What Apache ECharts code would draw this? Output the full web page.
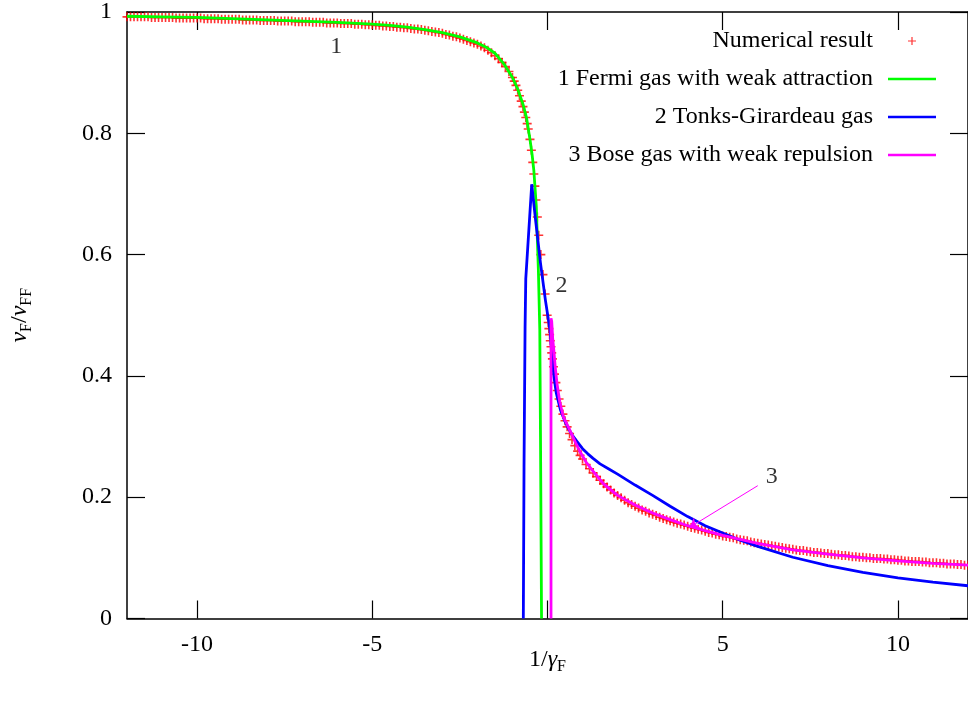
<!DOCTYPE html>
<html><head><meta charset="utf-8">
<script src="https://cdn.jsdelivr.net/npm/echarts@6/dist/echarts.min.js"></script>
<style>html,body{margin:0;padding:0;background:#fff}#c{width:968px;height:706px}</style>
</head><body><div id="c"></div><script>
// ---- data ----
const redX = [
-12,-11.9,-11.8,-11.7,-11.6,-11.5,-11.4,-11.3,-11.2,-11.1,-11,-10.9,-10.8,-10.7,-10.6,-10.5,-10.4,-10.3,-10.2,-10.1,-10,
-9.9,-9.8,-9.7,-9.6,-9.5,-9.4,-9.3,-9.2,-9.1,-9,
-8.9,-8.8,-8.7,-8.6,-8.5,-8.4,-8.3,-8.2,-8.1,-8,
-7.9,-7.8,-7.7,-7.6,-7.5,-7.4,-7.3,-7.2,-7.1,-7,
-6.9,-6.8,-6.7,-6.6,-6.5,-6.4,-6.3,-6.2,-6.1,-6,
-5.9,-5.8,-5.7,-5.6,-5.5,-5.4,-5.3,-5.2,-5.1,-5,
-4.9,-4.8,-4.7,-4.6,-4.5,-4.4,-4.3,-4.2,-4.1,-4,
-3.9,-3.8,-3.7,-3.6,-3.5,-3.4,-3.3,-3.2,-3.1,-3,
-2.9,-2.8,-2.7,-2.6,-2.5,-2.4,-2.3,-2.2,-2.1,-2,
-1.9,-1.8,-1.7,-1.6,-1.5,-1.4,-1.3,-1.2,-1.1,-1,-0.95,-0.9,-0.85,-0.8,-0.75,-0.7,-0.66,-0.62,-0.58,-0.55,
-0.5,-0.46,-0.42,-0.39,-0.36,-0.33,-0.29,-0.25,-0.19,-0.13,-0.07,-0.01,
0.02,0.04,0.06,0.08,0.1,0.12,0.14,0.17,0.2,0.24,0.28,0.33,0.38,0.44,0.5,0.56,0.63,0.7,0.78,0.86,0.93,
1,1.1,1.2,1.3,1.4,1.5,1.6,1.7,1.8,1.9,2,2.1,2.2,2.3,2.4,2.5,2.6,2.7,2.8,2.9,
3,3.1,3.2,3.3,3.4,3.5,3.6,3.7,3.8,3.9,4,4.1,4.2,4.3,4.4,4.5,4.6,4.7,4.8,4.9,
5,5.1,5.2,5.3,5.4,5.5,5.6,5.7,5.8,5.9,6,6.1,6.2,6.3,6.4,6.5,6.6,6.7,6.8,6.9,
7,7.1,7.2,7.3,7.4,7.5,7.6,7.7,7.8,7.9,8,8.1,8.2,8.3,8.4,8.5,8.6,8.7,8.8,8.9,
9,9.1,9.2,9.3,9.4,9.5,9.6,9.7,9.8,9.9,10,10.1,10.2,10.3,10.4,10.5,10.6,10.7,10.8,10.9,
11,11.1,11.2,11.3,11.4,11.5,11.6,11.7,11.8,11.9,12];
const redY = [
0.992,0.992,0.992,0.992,0.992,0.992,0.992,0.991,0.991,0.991,0.991,0.991,0.991,0.991,0.990,0.990,0.990,0.990,0.990,0.990,0.990,
0.990,0.989,0.989,0.989,0.989,0.989,0.988,0.988,0.988,0.988,
0.988,0.988,0.987,0.987,0.987,0.987,0.987,0.986,0.986,0.986,
0.986,0.986,0.985,0.985,0.985,0.985,0.985,0.984,0.984,0.984,
0.984,0.984,0.983,0.983,0.983,0.983,0.982,0.982,0.982,0.982,
0.981,0.981,0.981,0.981,0.980,0.980,0.980,0.979,0.979,0.979,
0.978,0.978,0.977,0.977,0.976,0.976,0.975,0.975,0.974,0.974,
0.973,0.972,0.972,0.971,0.970,0.969,0.968,0.967,0.966,0.965,
0.963,0.962,0.960,0.959,0.957,0.955,0.953,0.951,0.949,0.947,
0.944,0.941,0.937,0.933,0.928,0.923,0.917,0.910,0.902,0.892,0.886,0.879,0.871,0.862,0.853,0.844,0.835,0.826,0.816,0.807,
0.790,0.772,0.752,0.733,0.713,0.690,0.662,0.632,0.600,0.567,0.535,0.500,
0.488,0.478,0.468,0.458,0.448,0.438,0.428,0.415,0.403,0.389,0.376,0.362,0.350,0.337,0.326,0.316,0.305,0.295,0.285,0.276,0.269,
0.263,0.254,0.247,0.240,0.234,0.228,0.222,0.217,0.212,0.207,0.203,0.199,0.195,0.191,0.188,0.185,0.182,0.179,0.177,0.174,
0.172,0.170,0.167,0.165,0.163,0.161,0.159,0.157,0.156,0.154,0.152,0.150,0.149,0.147,0.146,0.144,0.142,0.141,0.139,0.138,
0.136,0.135,0.134,0.133,0.131,0.130,0.129,0.128,0.126,0.125,0.124,0.123,0.122,0.121,0.120,0.119,0.118,0.117,0.116,0.115,
0.114,0.113,0.112,0.112,0.111,0.110,0.109,0.109,0.108,0.107,0.107,0.106,0.105,0.105,0.104,0.104,0.103,0.102,0.102,0.101,
0.101,0.100,0.100,0.099,0.099,0.099,0.098,0.098,0.097,0.097,0.096,0.096,0.095,0.095,0.094,0.094,0.094,0.093,0.093,0.092,
0.092,0.092,0.091,0.091,0.090,0.090,0.090,0.089,0.089,0.088,0.088];

const greenX = [-12,-11,-10,-9,-8,-7,-6,-5,-4.5,-4,-3.5,-3,-2.5,-2,-1.75,-1.5,-1.25,-1,-0.85,-0.7,-0.6,-0.5,-0.44,-0.39,-0.32,-0.26,-0.22,-0.2,-0.17];
const greenY = [0.993,0.992,0.991,0.989,0.987,0.985,0.983,0.980,0.978,0.975,0.971,0.966,0.959,0.949,0.942,0.932,0.915,0.892,0.873,0.848,0.826,0.790,0.765,0.739,0.680,0.574,0.476,0.300,0];

const blueX = [-0.69,-0.67,-0.64,-0.62,-0.45,-0.34,-0.2,-0.06,0.07,0.12,0.18,0.25,0.37,0.5,0.6,0.7,0.84,1.0,1.15,1.3,1.5,1.75,2.0,2.5,3.0,3.5,4.0,4.5,5.0,5.5,6.0,7.0,8.0,9.0,10.0,11.0,12.0];
const blueY = [0,0.25,0.48,0.56,0.716,0.657,0.586,0.525,0.476,0.44,0.40,0.372,0.344,0.325,0.313,0.303,0.292,0.280,0.2715,0.264,0.255,0.2465,0.238,0.220,0.203,0.185,0.168,0.153,0.141,0.129,0.119,0.101,0.087,0.076,0.067,0.060,0.054];

const magX = [0.10,0.10,0.12,0.15,0.18,0.22,0.27,0.35,0.45,0.6,0.8,0.93,1.1,1.3,1.6,2.0,2.5,3.0,3.5,4.0,4.5,5.0,6.0,7.0,8.0,9.0,10.0,11.0,12.0];
const magY = [0,0.495,0.49,0.46,0.443,0.415,0.388,0.357,0.333,0.315,0.29,0.275,0.258,0.243,0.222,0.203,0.187,0.174,0.163,0.153,0.145,0.137,0.124,0.113,0.106,0.100,0.095,0.091,0.088];

const seriesNames = ['Numerical result','1 Fermi gas with weak attraction','2 Tonks-Girardeau gas','3 Bose gas with weak repulsion'];
const noteText = ['1','2','3'];
const noteX = [-6.03,0.40,6.4];
const noteY = [0.943,0.548,0.234];
const arrowFrom = [6.0,0.219];
const arrowTo = [4.05,0.150];

const xTickValues = [-10,-5,0,5,10];
const xLabelValues = [-10,-5,5,10];

// ---- chart ----
const FONT = '"Liberation Serif","DejaVu Serif",serif';
const pair = (xs, ys) => xs.map((x, i) => [x, ys[i]]);
const plus = 'path://M0,4.1H10V5.9H0Z M4.1,0H5.9V10H4.1Z';
const plusIcon = 'path://M0,3.4H8V4.6H0Z M3.4,0H4.6V8H3.4Z';
const lineIcon = 'path://M0,0H48V2.6H0Z';
const axLine = {show:true, onZero:false, lineStyle:{color:'#000', width:1.5}};
const tick = (extra) => Object.assign({show:true, inside:true, length:18, lineStyle:{color:'#000', width:1.2}}, extra||{});
const rich = {
  i:{fontFamily:FONT, fontSize:24, fontStyle:'italic', color:'#000'},
  s:{fontFamily:FONT, fontSize:16, color:'#000', padding:[14,0,0,0]}
};
const colors = ['#ff0000','#00ff00','#0000ff','#ff00ff'];

const chart = echarts.init(document.getElementById('c'));
chart.setOption({
  animation:false,
  backgroundColor:'#fff',
  textStyle:{fontFamily:FONT},
  grid:{left:122.6, top:10, width:848, height:608.5},
  legend:{
    data:[{name:seriesNames[0], icon:plusIcon},
          {name:seriesNames[1], icon:lineIcon},
          {name:seriesNames[2], icon:lineIcon},
          {name:seriesNames[3], icon:lineIcon}],
    orient:'vertical', align:'right', right:32, top:29, padding:0, itemGap:14,
    itemWidth:48, itemHeight:8, symbolKeepAspect:true, selectedMode:false,
    textStyle:{fontFamily:FONT, fontSize:24, color:'#000', padding:[0,10,0,0]}
  },
  xAxis:[
    {type:'value', min:-12, max:12, position:'bottom', axisLine:axLine,
     axisTick:tick({customValues:xTickValues}),
     axisLabel:{customValues:xLabelValues, fontFamily:FONT, fontSize:24, color:'#000', margin:14},
     splitLine:{show:false},
     name:'1/{i|γ}{s|F}', nameLocation:'middle', nameGap:26, nameMoveOverlap:false,
     nameTextStyle:{fontFamily:FONT, fontSize:24, color:'#000', rich:rich}},
    {type:'value', min:-12, max:12, position:'top', axisLine:axLine,
     axisTick:tick({customValues:xTickValues}), axisLabel:{show:false}, splitLine:{show:false}}
  ],
  yAxis:[
    {type:'value', min:0, max:1, interval:0.2, position:'left', axisLine:axLine, axisTick:tick(),
     axisLabel:{fontFamily:FONT, fontSize:24, color:'#000', margin:15},
     splitLine:{show:false},
     name:'{i|ν}{s|F}/{i|ν}{s|FF}', nameLocation:'middle', nameGap:92, nameMoveOverlap:false,
     nameTextStyle:{fontFamily:FONT, fontSize:24, color:'#000', rich:rich}},
    {type:'value', min:0, max:1, interval:0.2, position:'right', axisLine:axLine, axisTick:tick(),
     axisLabel:{show:false}, splitLine:{show:false}}
  ],
  series:[
    {name:seriesNames[0], type:'scatter', data:pair(redX, redY), symbol:plus, symbolSize:9,
     itemStyle:{color:colors[0]}, silent:true},
    {name:seriesNames[1], type:'line', data:pair(greenX, greenY), symbol:'none', showSymbol:false,
     lineStyle:{color:colors[1], width:2.8}, itemStyle:{color:colors[1]}, silent:true},
    {name:seriesNames[2], type:'line', data:pair(blueX, blueY), symbol:'none', showSymbol:false,
     lineStyle:{color:colors[2], width:2.8}, itemStyle:{color:colors[2]}, silent:true},
    {name:seriesNames[3], type:'line', data:pair(magX, magY), symbol:'none', showSymbol:false,
     lineStyle:{color:colors[3], width:2.8}, itemStyle:{color:colors[3]}, silent:true,
     markLine:{silent:true, symbol:['none','arrow'], symbolSize:9, animation:false,
       lineStyle:{color:colors[3], width:1, type:'solid'}, label:{show:false}, emphasis:{disabled:true},
       data:[[{coord:arrowFrom}, {coord:arrowTo}]]}},
    {name:'notes', type:'scatter', symbolSize:0, silent:true, z:10,
     data:noteX.map((x, i) => ({value:[x, noteY[i]], label:{formatter:noteText[i]}})),
     label:{show:true, position:'inside', fontFamily:FONT, fontSize:24, color:'#000'}}
  ]
});
</script></body></html>
